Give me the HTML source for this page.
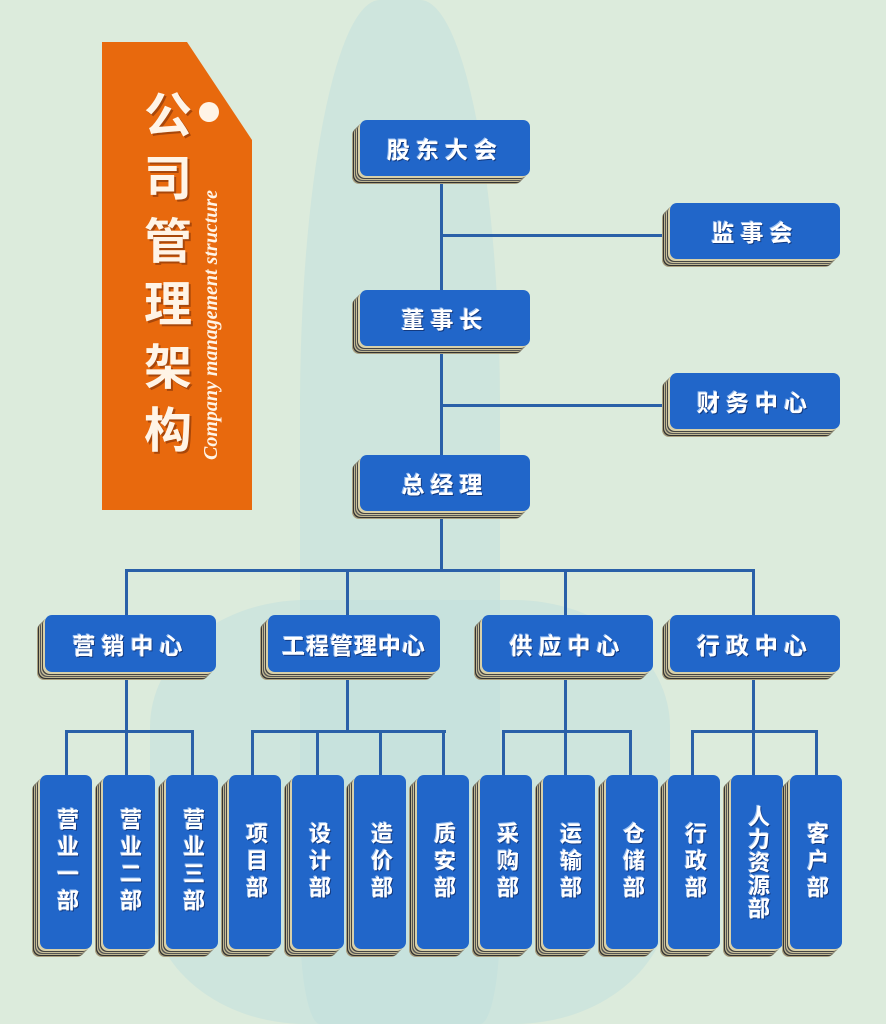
<!DOCTYPE html>
<html><head><meta charset="utf-8"><style>
body{margin:0;width:886px;height:1024px;overflow:hidden;background:#dcebdc;position:relative;font-family:"Liberation Sans","Noto Sans CJK SC",sans-serif}
.l{position:absolute;background:#2a60a8}
.b{position:absolute;background:#2166c9;border-radius:7px;color:#fff;font-weight:bold;display:flex;align-items:center;justify-content:center;
box-shadow:-2px 2px 0 #d8d0a8,-3px 3px 0 #444,-4px 4px 0 #c9c09a,-5px 5px 0 #555,-6px 6px 0 #bfb690,-7px 7px 0 #333,-8px 8px 0 #a9a080;
text-shadow:1px 1px 0 #133a80,-1px -1px 0 #9cc0f0;letter-spacing:6px}
.h{font-size:23px}
.v{writing-mode:vertical-rl;font-size:22px;letter-spacing:5px;line-height:1.1}
.blob{position:absolute;background:#bfe0de;opacity:.5}
</style></head><body>
<div class="blob" style="left:300px;top:0;width:200px;height:1024px;border-radius:40% 40% 10% 10%"></div>
<div class="blob" style="left:150px;top:600px;width:520px;height:424px;border-radius:30%"></div>

<div style="position:absolute;left:102px;top:42px;width:150px;height:468px;background:#e8690d;clip-path:polygon(0 0,85px 0,150px 98px,150px 468px,0 468px)"></div>
<div style="position:absolute;left:140px;top:85px;width:56px;font-size:48px;font-weight:bold;color:#fff4e6;line-height:63px;text-align:center;text-shadow:2px 2px 0 #a8470a">公<br>司<br>管<br>理<br>架<br>构</div>
<div style="position:absolute;left:199px;top:102px;width:20px;height:20px;border-radius:50%;background:#fff4e6"></div>
<div style="position:absolute;left:200px;top:460px;transform-origin:0 0;transform:rotate(-90deg);white-space:nowrap;font-family:'Liberation Serif',serif;font-style:italic;font-weight:bold;font-size:20px;color:#fff4e6">Company management structure</div>

<div class="l" style="left:440px;top:180px;width:3px;height:280px"></div>
<div class="l" style="left:441px;top:234px;width:224px;height:3px"></div>
<div class="l" style="left:441px;top:404px;width:224px;height:3px"></div>
<div class="l" style="left:440px;top:515px;width:3px;height:56px"></div>
<div class="l" style="left:125px;top:569px;width:630px;height:3px"></div>
<div class="l" style="left:125px;top:569px;width:3px;height:48px"></div>
<div class="l" style="left:346px;top:569px;width:3px;height:48px"></div>
<div class="l" style="left:564px;top:569px;width:3px;height:48px"></div>
<div class="l" style="left:752px;top:569px;width:3px;height:48px"></div>

<div class="l" style="left:125px;top:678px;width:3px;height:54px"></div>
<div class="l" style="left:65px;top:730px;width:129px;height:3px"></div>
<div class="l" style="left:65px;top:730px;width:3px;height:47px"></div>
<div class="l" style="left:125px;top:730px;width:3px;height:47px"></div>
<div class="l" style="left:191px;top:730px;width:3px;height:47px"></div>

<div class="l" style="left:346px;top:678px;width:3px;height:54px"></div>
<div class="l" style="left:251px;top:730px;width:195px;height:3px"></div>
<div class="l" style="left:251px;top:730px;width:3px;height:47px"></div>
<div class="l" style="left:316px;top:730px;width:3px;height:47px"></div>
<div class="l" style="left:379px;top:730px;width:3px;height:47px"></div>
<div class="l" style="left:442px;top:730px;width:3px;height:47px"></div>

<div class="l" style="left:564px;top:678px;width:3px;height:54px"></div>
<div class="l" style="left:502px;top:730px;width:130px;height:3px"></div>
<div class="l" style="left:502px;top:730px;width:3px;height:47px"></div>
<div class="l" style="left:564px;top:730px;width:3px;height:47px"></div>
<div class="l" style="left:629px;top:730px;width:3px;height:47px"></div>

<div class="l" style="left:752px;top:678px;width:3px;height:54px"></div>
<div class="l" style="left:691px;top:730px;width:127px;height:3px"></div>
<div class="l" style="left:691px;top:730px;width:3px;height:47px"></div>
<div class="l" style="left:752px;top:730px;width:3px;height:47px"></div>
<div class="l" style="left:815px;top:730px;width:3px;height:47px"></div>

<div class="b h" style="left:360px;top:120px;width:170px;height:56px">股东大会</div>
<div class="b h" style="left:670px;top:203px;width:170px;height:56px">监事会</div>
<div class="b h" style="left:360px;top:290px;width:170px;height:56px">董事长</div>
<div class="b h" style="left:670px;top:373px;width:170px;height:56px">财务中心</div>
<div class="b h" style="left:360px;top:455px;width:170px;height:56px">总经理</div>

<div class="b h" style="left:45px;top:615px;width:171px;height:57px">营销中心</div>
<div class="b h" style="left:268px;top:615px;width:172px;height:57px;letter-spacing:1px">工程管理中心</div>
<div class="b h" style="left:482px;top:615px;width:171px;height:57px">供应中心</div>
<div class="b h" style="left:670px;top:615px;width:170px;height:57px">行政中心</div>

<div class="b v" style="left:40px;top:775px;width:52px;height:174px">营业一部</div>
<div class="b v" style="left:103px;top:775px;width:52px;height:174px">营业二部</div>
<div class="b v" style="left:166px;top:775px;width:52px;height:174px">营业三部</div>
<div class="b v" style="left:229px;top:775px;width:52px;height:174px">项目部</div>
<div class="b v" style="left:292px;top:775px;width:52px;height:174px">设计部</div>
<div class="b v" style="left:354px;top:775px;width:52px;height:174px">造价部</div>
<div class="b v" style="left:417px;top:775px;width:52px;height:174px">质安部</div>
<div class="b v" style="left:480px;top:775px;width:52px;height:174px">采购部</div>
<div class="b v" style="left:543px;top:775px;width:52px;height:174px">运输部</div>
<div class="b v" style="left:606px;top:775px;width:52px;height:174px">仓储部</div>
<div class="b v" style="left:668px;top:775px;width:52px;height:174px">行政部</div>
<div class="b v" style="left:731px;top:775px;width:52px;height:174px;letter-spacing:1px">人力资源部</div>
<div class="b v" style="left:790px;top:775px;width:52px;height:174px">客户部</div>
</body></html>
